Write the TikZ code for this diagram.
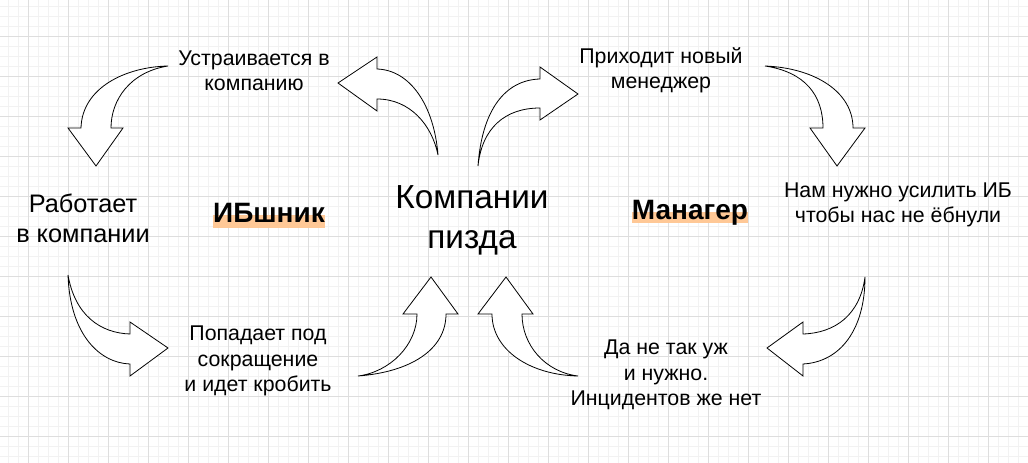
\documentclass[tikz,border=0pt]{standalone}
\usepackage{fontspec}
\setmainfont{Liberation Sans}
\usetikzlibrary{calc}
\usetikzlibrary{backgrounds}

\begin{document}
\begin{tikzpicture}[x=0.75pt,y=-0.75pt,
    smallText/.style={align=center, font=\fontsize{16}{19}\selectfont},
    midText/.style={align=center, font=\fontsize{19}{22.5}\selectfont},
    bigText/.style={align=center, font=\fontsize{25}{30}\selectfont},
    boldText/.style={inner sep=0pt, font=\fontsize{21}{25}\selectfont\bfseries},
    blockArrow/.style={draw=black, fill=white, line width=0.6pt, line join=miter},
    marker/.style={fill={rgb,255:red,255;green,200;blue,150}}]
    \useasboundingbox (0,0) rectangle (1028,463);
    \begin{scope}[on background layer]
      \fill[white] (0,0) rectangle (1028,463);
      \begin{scope}[shift={(28,36)}]
        \draw[black!5, line width=0.5pt, step=7.5pt] (-28,427) grid (1000,-36);
        \draw[black!13, line width=0.6pt, step=30pt] (-28,427) grid (1000,-36);
      \end{scope}
    \end{scope}

    % labels
    \node[smallText] (setUp) at (254,71) {Устраивается в\\компанию};
    \node[smallText] (newBoss) at (661,70) {Приходит новый\\менеджер};
    \node[midText] (works) at (83,218) {Работает\\в компании};
    \node[bigText] (company) at (472,220) {Компании\\пизда};
    \node[smallText] (needIB) at (898,205) {Нам нужно усилить ИБ\\чтобы нас не ёбнули};
    \node[smallText] (layoff) at (258,361) {Попадает под\\сокращение\\и идет кробить};
    \node[smallText] (noNeed) at (666,375) {Да не так уж\\и нужно.\\Инцидентов же нет};
    \node[boldText] (ibGuy) at (269,213) {ИБшник};
    \node[boldText] (manager) at (690,213) {Манагер};
    \begin{scope}[on background layer]
      \fill[marker] ($(ibGuy.base west)+(0,-8)$) rectangle ($(ibGuy.base east)+(0,5)$);
      \fill[marker] ($(manager.base west)+(0,-8)$) rectangle ($(manager.base east)+(0,3)$);
    \end{scope}

    % curved block arrows
    \draw[blockArrow] (168,66) .. controls (125,67) and (82,88) .. (81,128) -- (68,128) -- (96,166) -- (123,128) -- (111,128) .. controls (111,100) and (130,72) .. (168,66) -- cycle;
    \draw[blockArrow] (438,155) .. controls (434,105) and (410,70) .. (377,69) -- (377,57) -- (338,83) -- (377,111) -- (377,99) .. controls (410,99) and (432,125) .. (438,155) -- cycle;
    \draw[blockArrow] (478,166) .. controls (482,110) and (505,80) .. (540,79) -- (540,67) -- (578,94) -- (540,120) -- (540,108) .. controls (505,108) and (482,128) .. (478,166) -- cycle;
    \draw[blockArrow] (765,66) .. controls (815,68) and (853,92) .. (853,128) -- (865,128) -- (837,166) -- (810,128) -- (823,128) .. controls (823,95) and (805,72) .. (765,66) -- cycle;
    \draw[blockArrow] (68,275) .. controls (75,315) and (100,333) .. (130,334) -- (130,322) -- (168,348) -- (130,376) -- (130,364) .. controls (100,363) and (70,335) .. (68,275) -- cycle;
    \draw[blockArrow] (358,376) .. controls (390,372) and (417,345) .. (417,314) -- (403,314) -- (431,277) -- (458,314) -- (446,314) .. controls (446,350) and (410,372) .. (358,376) -- cycle;
    \draw[blockArrow] (578,376) .. controls (545,372) and (522,345) .. (522,314) -- (533,314) -- (506,277) -- (478,314) -- (492,314) .. controls (492,350) and (530,375) .. (578,376) -- cycle;
    \draw[blockArrow] (865,277) .. controls (860,315) and (835,333) .. (803,334) -- (803,322) -- (767,348) -- (803,376) -- (803,364) .. controls (840,362) and (865,330) .. (865,277) -- cycle;
\end{tikzpicture}
\end{document}
